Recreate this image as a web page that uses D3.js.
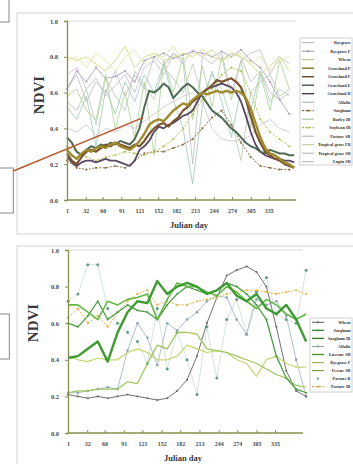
<!DOCTYPE html>
<html>
<head>
<meta charset="utf-8">
<script src="https://cdn.jsdelivr.net/npm/d3@7"></script>
<style>
  body { margin: 0; background: #fff; }
  svg { display: block; }
</style>
</head>
<body>
<div id="outlet"></div>
<script>
// axis ticks
const dayTicks = [1, 32, 60, 91, 121, 152, 182, 213, 244, 274, 305, 335];
const ndviTicks = [0, 0.2, 0.4, 0.6, 0.8, 1.0];

// composite days
const days8 = [1, 9, 17, 25, 33, 41, 49, 57, 65, 73, 81, 89, 97, 105, 113, 121, 129, 137, 145, 153, 161, 169, 177, 185,
  193, 201, 209, 217, 225, 233, 241, 249, 257, 265, 273, 281, 289, 297, 305, 313, 321, 329, 337, 345, 353, 361, 369, 377];
const days16 = [1, 17, 33, 49, 65, 81, 97, 113, 129, 145, 161, 177, 193, 209, 225, 241, 257, 273, 289, 305, 321, 337, 353, 369];
const days16b = [1, 17, 33, 49, 65, 81, 97, 113, 129, 145, 161, 177, 193, 209, 225, 241, 257, 273, 289, 305, 321, 337, 353, 369, 385];

// ---- top panel ----
const grassP = [0.28,0.25,0.23,0.26,0.28,0.27,0.29,0.30, 0.29,0.31,0.32,0.30,0.29,0.28,0.30,0.33,
  0.37,0.42,0.44,0.45,0.44,0.47,0.50,0.52, 0.54,0.53,0.56,0.58,0.60,0.59,0.60,0.61,
  0.60,0.61,0.60,0.61,0.60,0.57,0.51,0.43, 0.35,0.29,0.26,0.25,0.23,0.21,0.20,0.18];
const grassF = [0.26,0.22,0.20,0.24,0.27,0.28,0.27,0.29, 0.31,0.30,0.32,0.31,0.30,0.29,0.31,0.30,
  0.33,0.37,0.40,0.42,0.43,0.41,0.44,0.46, 0.50,0.52,0.55,0.57,0.60,0.62,0.64,0.67,
  0.66,0.67,0.68,0.66,0.63,0.56,0.47,0.38, 0.32,0.27,0.25,0.23,0.22,0.20,0.19,0.18];
const grassE = [0.35,0.32,0.27,0.25,0.28,0.30,0.29,0.31, 0.30,0.32,0.31,0.33,0.32,0.31,0.34,0.40,
  0.52,0.61,0.60,0.62,0.65,0.63,0.57,0.60, 0.63,0.65,0.63,0.60,0.58,0.54,0.50,0.48,
  0.46,0.43,0.40,0.38,0.35,0.32,0.30,0.29, 0.27,0.26,0.28,0.27,0.26,0.26,0.25,0.25];
const grassD = [0.24,0.21,0.19,0.21,0.22,0.22,0.21,0.22, 0.23,0.22,0.22,0.21,0.20,0.19,0.22,0.28,
  0.30,0.33,0.38,0.41,0.40,0.42,0.43,0.45, 0.47,0.48,0.50,0.55,0.60,0.62,0.63,0.64,
  0.65,0.64,0.63,0.60,0.55,0.47,0.38,0.31, 0.27,0.25,0.24,0.23,0.23,0.22,0.22,0.21];
const sorghum = [0.22,0.18,0.17,0.18,0.18,0.19,0.18,0.22,0.26,0.27,0.27,0.29,0.31,0.34,0.40,0.46,0.50,0.42,0.32,0.24,0.19,0.18,0.17,0.17];
const soybeanIB = [0.30,0.27,0.24,0.22,0.24,0.25,0.27,0.26,0.25,0.27,0.30,0.34,0.40,0.48,0.56,0.62,0.70,0.74,0.72,0.60,0.45,0.38,0.34,0.30];
const ryegrass = [0.62,0.70,0.55,0.66,0.60,0.72,0.58,0.70,0.62,0.80,0.75,0.82,0.78,0.20,0.80,0.84,0.78,0.82,0.80,0.66,0.72,0.60,0.56,0.60];
const ryegrassF = [0.62,0.72,0.66,0.74,0.68,0.69,0.72,0.66,0.78,0.80,0.82,0.79,0.81,0.83,0.82,0.80,0.83,0.80,0.84,0.78,0.74,0.66,0.56,0.48];
const wheat = [0.80,0.78,0.80,0.76,0.72,0.78,0.86,0.74,0.80,0.82,0.78,0.80,0.82,0.80,0.84,0.80,0.78,0.82,0.80,0.76,0.70,0.75,0.80,0.72];
const alfalfa = [0.52,0.45,0.58,0.30,0.62,0.48,0.66,0.55,0.70,0.60,0.76,0.56,0.40,0.09,0.52,0.72,0.55,0.35,0.62,0.50,0.72,0.55,0.62,0.58];
const barleyIB = [0.58,0.62,0.50,0.45,0.70,0.40,0.60,0.35,0.66,0.25,0.78,0.60,0.80,0.45,0.75,0.52,0.80,0.56,0.78,0.40,0.70,0.50,0.78,0.62];
const pastureSB = [0.70,0.74,0.62,0.68,0.58,0.64,0.70,0.60,0.74,0.78,0.70,0.82,0.76,0.84,0.80,0.76,0.82,0.60,0.78,0.82,0.84,0.70,0.80,0.76];
const tropFB = [0.78,0.80,0.74,0.82,0.78,0.72,0.80,0.84,0.76,0.82,0.80,0.86,0.78,0.82,0.80,0.84,0.78,0.80,0.82,0.76,0.80,0.72,0.78,0.80];
const tropSB = [0.55,0.50,0.62,0.42,0.68,0.58,0.50,0.72,0.64,0.56,0.74,0.68,0.60,0.76,0.58,0.70,0.62,0.45,0.22,0.60,0.66,0.70,0.58,0.62];
const lupinSB = [0.40,0.38,0.42,0.36,0.40,0.38,0.42,0.40,0.44,0.48,0.52,0.55,0.58,0.60,0.55,0.40,0.34,0.33,0.33,0.36,0.42,0.45,0.40,0.38];

// ---- bottom panel ----
const bWheat = [0.21,0.20,0.19,0.20,0.19,0.20,0.21,0.20,0.19,0.18,0.19,0.23,0.29,0.42,0.60,0.74,0.86,0.89,0.91,0.88,0.80,0.58,0.34,0.23,0.20];
const bSorghum = [0.60,0.58,0.64,0.72,0.62,0.66,0.70,0.67,0.66,0.62,0.70,0.76,0.80,0.78,0.76,0.78,0.82,0.80,0.76,0.70,0.62,0.42,0.30,0.24,0.22];
const bSorghumIB = [0.41,0.42,0.46,0.50,0.39,0.55,0.66,0.72,0.71,0.83,0.76,0.80,0.82,0.80,0.76,0.78,0.82,0.75,0.72,0.76,0.68,0.65,0.70,0.62,0.50];
const bAlfalfa = [0.22,0.22,0.23,0.24,0.25,0.24,0.45,0.60,0.52,0.37,0.60,0.56,0.62,0.66,0.72,0.75,0.74,0.62,0.54,0.73,0.70,0.72,0.64,0.40,0.20];
const bLucerne = [0.70,0.70,0.66,0.62,0.72,0.70,0.73,0.74,0.76,0.62,0.73,0.82,0.80,0.80,0.77,0.75,0.80,0.77,0.72,0.68,0.73,0.70,0.65,0.62,0.65];
const bRyegrass = [0.42,0.40,0.39,0.41,0.40,0.40,0.44,0.46,0.44,0.40,0.40,0.42,0.48,0.46,0.44,0.45,0.44,0.40,0.38,0.31,0.40,0.42,0.38,0.36,0.36];
const bFescue = [0.22,0.23,0.23,0.24,0.24,0.24,0.28,0.27,0.38,0.48,0.46,0.55,0.55,0.54,0.46,0.45,0.44,0.42,0.40,0.38,0.35,0.32,0.30,0.26,0.25];
const bPastureB = [0.72,0.76,0.92,0.92,0.68,0.60,0.55,0.50,0.38,0.68,0.35,0.55,0.40,0.21,0.58,0.30,0.62,0.73,0.54,0.77,0.85,0.65,0.62,0.60,0.89];
const bPastureIB = [0.63,0.68,0.60,0.64,0.58,0.66,0.72,0.76,0.78,0.70,0.72,0.70,0.70,0.72,0.73,0.74,0.76,0.77,0.78,0.78,0.77,0.76,0.77,0.78,0.76];

const serif = "'Liberation Serif', 'DejaVu Serif', serif";
const axisColor = "#84924c";

const topSeries = [
  { name: "Ryegrass", days: days16, values: ryegrass, color: "#bdbdbd", width: 0.8 },
  { name: "Ryegrass F", days: days16, values: ryegrassF, color: "#a898b6", width: 0.8, marker: 1 },
  { name: "Wheat", days: days16, values: wheat, color: "#d3de86", width: 0.9 },
  { name: "Grassland P", days: days8, values: grassP, color: "#a08b2e", width: 2.4 },
  { name: "Grassland F", days: days8, values: grassF, color: "#7b5430", width: 2.2 },
  { name: "Grassland E", days: days8, values: grassE, color: "#4f6a55", width: 2 },
  { name: "Grassland D", days: days8, values: grassD, color: "#5a4862", width: 1.8 },
  { name: "Alfalfa", days: days16, values: alfalfa, color: "#9cc6b8", width: 0.8 },
  { name: "Sorghum", days: days16, values: sorghum, color: "#8c7048", width: 1, marker: 1.1, dash: "2,1.5" },
  { name: "Barley IB", days: days16, values: barleyIB, color: "#aad290", width: 0.8 },
  { name: "Soybean IB", days: days16, values: soybeanIB, color: "#b6c65e", width: 1, marker: 1.1, dash: "2,1.5" },
  { name: "Pasture SB", days: days16, values: pastureSB, color: "#c6b8d4", width: 0.8 },
  { name: "Tropical grass FB", days: days16, values: tropFB, color: "#e2e5a4", width: 0.9 },
  { name: "Tropical grass SB", days: days16, values: tropSB, color: "#b6caae", width: 0.8 },
  { name: "Lupin SB", days: days16, values: lupinSB, color: "#cbbfcb", width: 0.8 }
];

const bottomSeries = [
  { name: "Wheat", days: days16b, values: bWheat, color: "#717171", width: 1, marker: 1.1 },
  { name: "Sorghum", days: days16b, values: bSorghum, color: "#4c9e48", width: 1.3, marker: 1 },
  { name: "Sorghum IB", days: days16b, values: bSorghumIB, color: "#3d9b32", width: 2.4 },
  { name: "Alfalfa", days: days16b, values: bAlfalfa, color: "#a5b9c4", width: 0.9, marker: 1.3, markerColor: "#8aa3b1" },
  { name: "Lucerne SB", days: days16b, values: bLucerne, color: "#62b843", width: 1.6 },
  { name: "Ryegrass F", days: days16b, values: bRyegrass, color: "#c3d66f", width: 1.2 },
  { name: "Fescue SB", days: days16b, values: bFescue, color: "#9ec45c", width: 1.2 },
  { name: "Pasture B", days: days16b, values: bPastureB, color: "#cadcd5", width: 0.8, marker: 1.5, markerColor: "#5f9e84" },
  { name: "Pasture IB", days: days16b, values: bPastureIB, color: "#e9b446", width: 1, marker: 1.1, dash: "2,1.5" }
];

const svg = d3.select("#outlet").append("svg").attr("width", 353).attr("height", 464);

// panel frames and side boxes
svg.append("rect").attr("x", 17).attr("y", 13).attr("width", 345).attr("height", 221)
  .attr("fill", "none").attr("stroke", "#d2d2d2");
svg.append("rect").attr("x", 17).attr("y", 246).attr("width", 345).attr("height", 230)
  .attr("fill", "none").attr("stroke", "#d2d2d2");
[[-2, -2, 11, 24], [-2, 168, 15.3, 45], [-2, 314, 11.3, 45]].forEach(([bx, by, bw, bh]) =>
  svg.append("rect").attr("x", bx).attr("y", by).attr("width", bw).attr("height", bh)
    .attr("fill", "none").attr("stroke", "#7a7a7a").attr("stroke-width", 0.9));

function drawChart(o) {
  const x = d3.scaleLinear().domain([1, 380]).range(o.xRange);
  const y = d3.scaleLinear().domain([0, 1]).range(o.yRange);
  const g = svg.append("g");

  g.append("line").attr("x1", o.xRange[0]).attr("x2", o.xRange[1])
    .attr("y1", y(1)).attr("y2", y(1)).attr("stroke", "#d8d8d8");

  const line = d3.line().x(d => x(d[0])).y(d => y(d[1]));

  // thin series go underneath the bold ones
  o.series.slice().sort((a, b) => a.width - b.width).forEach(s => {
    const pts = d3.zip(s.days, s.values);
    g.append("path").datum(pts)
      .attr("fill", "none")
      .attr("stroke", s.color)
      .attr("stroke-width", s.width)
      .attr("stroke-dasharray", s.dash || null)
      .attr("stroke-linejoin", "round")
      .attr("d", line);
    if (s.marker)
      g.append("g").selectAll("circle").data(pts).join("circle")
        .attr("cx", d => x(d[0])).attr("cy", d => y(d[1]))
        .attr("r", s.marker).attr("fill", s.markerColor || s.color);
  });

  const xAxis = d3.axisBottom(x).tickValues(dayTicks).tickSizeInner(-3).tickSizeOuter(0)
    .tickPadding(9).tickFormat(d3.format("d"));
  g.append("g").attr("transform", `translate(0,${y(0)})`).call(xAxis)
    .call(a => a.select(".domain").attr("d", `M${o.xRange[0]},0H${o.xRange[1]}`)
      .attr("stroke", axisColor).attr("stroke-width", 1.3))
    .call(a => a.selectAll(".tick line").attr("stroke", axisColor))
    .call(a => a.selectAll("text").attr("font-family", serif).attr("font-weight", "bold")
      .attr("font-size", 6).attr("fill", "#4a4a4a"));

  const yAxis = d3.axisLeft(y).tickValues(ndviTicks).tickSize(3).tickPadding(6)
    .tickFormat(d3.format(".1f"));
  g.append("g").attr("transform", `translate(${o.xRange[0]},0)`).call(yAxis)
    .call(a => a.select(".domain").attr("stroke", axisColor).attr("stroke-width", 1.3))
    .call(a => a.selectAll(".tick line").attr("stroke", axisColor))
    .call(a => a.selectAll("text").attr("font-family", serif).attr("font-weight", "bold")
      .attr("font-size", 6.5).attr("fill", "#4a4a4a"));

  g.append("text")
    .attr("transform", `translate(${o.yLabel[0]},${o.yLabel[1]}) rotate(-90)`)
    .attr("text-anchor", "middle").attr("dy", "0.35em")
    .attr("font-family", serif).attr("font-weight", "bold").attr("font-size", 15)
    .attr("fill", "#3a3a3a").text("NDVI");

  g.append("text").attr("x", o.xLabel[0]).attr("y", o.xLabel[1])
    .attr("text-anchor", "middle")
    .attr("font-family", serif).attr("font-weight", "bold").attr("font-size", 8.5)
    .attr("fill", "#3a3a3a").text("Julian day");

  // legend
  const lg = g.append("g");
  const b = o.legend;
  lg.append("rect").attr("x", b.x).attr("y", b.y).attr("width", b.w).attr("height", b.h)
    .attr("fill", "#fff").attr("stroke", "#cfcfcf");
  o.series.forEach((s, i) => {
    const ry = b.first + i * b.row;
    if (s.name !== "Pasture B")
      lg.append("line").attr("x1", b.x + 2).attr("x2", b.x + 14).attr("y1", ry).attr("y2", ry)
        .attr("stroke", d3.color(s.color).darker(0.6)).attr("stroke-width", Math.min(s.width, 1.4))
        .attr("stroke-dasharray", s.dash || null);
    if (s.marker)
      lg.append("circle").attr("cx", b.x + 8).attr("cy", ry).attr("r", 1.1)
        .attr("fill", s.markerColor || s.color);
    lg.append("text").attr("x", b.x + b.w - 1.5).attr("y", ry).attr("dy", "0.35em")
      .attr("text-anchor", "end").attr("font-family", serif).attr("font-weight", "bold")
      .attr("font-size", 4.3).attr("fill", "#333").text(s.name);
  });

  return { x, y };
}

const topChart = drawChart({
  series: topSeries, xRange: [67, 296], yRange: [200, 21],
  yLabel: [39, 95], xLabel: [189, 228],
  legend: { x: 300, y: 38, w: 52, h: 127, first: 42.7, row: 8.5 }
});

drawChart({
  series: bottomSeries, xRange: [68, 303], yRange: [433, 250],
  yLabel: [33, 323], xLabel: [183, 461],
  legend: { x: 310, y: 318, w: 42, h: 74, first: 322.3, row: 8.05 }
});

// pointer from the side box to the rising curves
svg.append("line").attr("x1", 13.3).attr("y1", 171)
  .attr("x2", topChart.x(127)).attr("y2", topChart.y(0.46))
  .attr("stroke", "#b65b31").attr("stroke-width", 1.5);
</script>
</body>
</html>
